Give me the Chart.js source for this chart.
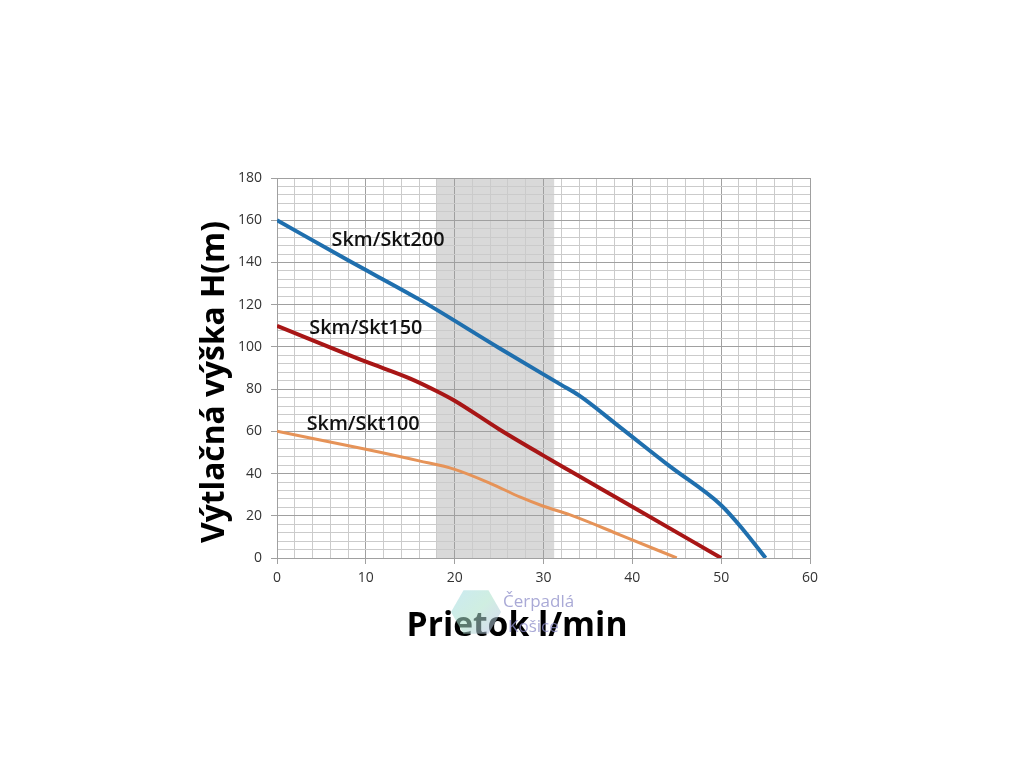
<!DOCTYPE html>
<html>
<head>
<meta charset="utf-8">
<script src="https://cdn.jsdelivr.net/npm/chart.js@4"></script>
<style>
html,body{margin:0;padding:0;background:#fff;}
#wrap{width:1024px;height:768px;position:relative;}
</style>
</head>
<body>
<div id="wrap"><canvas id="c" width="1024" height="768"></canvas></div>
<script>
// ---- data ----
const seriesNames = ['Skm/Skt200', 'Skm/Skt150', 'Skm/Skt100'];
const flow200 = [0, 8, 16, 25, 32, 34, 38.6, 44.2, 50, 52.5, 55];
const head200 = [160, 141, 122.5, 99.5, 82, 77, 62, 43.5, 25, 13.3, 0];
const flow150 = [0, 10, 15, 18, 20, 25, 30, 33, 40, 50];
const head150 = [110, 93, 85, 79, 74.5, 61, 48.5, 41.2, 24.3, 0];
const flow100 = [0, 10, 16, 20, 24, 27.4, 30, 33, 38.6, 45];
const head100 = [60, 51.5, 46, 42, 35.4, 28.8, 24.5, 20.4, 11, 0];
const xTicks = [0, 10, 20, 30, 40, 50, 60];
const yTicks = [0, 20, 40, 60, 80, 100, 120, 140, 160, 180];
const bandRange = [18, 31.2];
const xTitle = 'Prietok l/min';
const yTitle = 'Výtlačná výška H(m)';
const watermark = ['Čerpadlá', 'Košice'];

function pts(xs, ys) { return xs.map((x, i) => ({x: x, y: ys[i]})); }

const labelPos = [[12.5, 150.5], [10.0, 109], [9.7, 63.5]];

function fitFont(ctx, weight, family, text, target) {
  ctx.font = weight + ' 30px ' + family;
  const w = ctx.measureText(text).width;
  const fs = 30 * target / w;
  ctx.font = weight + ' ' + fs.toFixed(2) + 'px ' + family;
}

const overlay = {
  id: 'overlay',
  beforeDraw(chart) {
    const {ctx, chartArea, scales} = chart;
    const x0 = scales.x.getPixelForValue(bandRange[0]);
    const x1 = scales.x.getPixelForValue(bandRange[1]);
    ctx.save();
    ctx.fillStyle = '#d9d9d9';
    ctx.fillRect(x0, chartArea.top, x1 - x0, chartArea.bottom - chartArea.top);
    ctx.restore();
  },
  afterDatasetsDraw(chart) {
    const {ctx, scales} = chart;
    ctx.save();
    ctx.fillStyle = '#111';
    ctx.textAlign = 'center';
    ctx.textBaseline = 'middle';
    seriesNames.forEach((n, i) => {
      fitFont(ctx, '600', '"Open Sans"', n, 113);
      ctx.fillText(n, scales.x.getPixelForValue(labelPos[i][0]), scales.y.getPixelForValue(labelPos[i][1]));
    });
    ctx.fillStyle = '#000';
    fitFont(ctx, 'bold', '"Open Sans"', xTitle, 221);
    ctx.fillText(xTitle, 517, 626);
    fitFont(ctx, 'bold', '"Open Sans"', yTitle, 322);
    ctx.translate(215, 382);
    ctx.rotate(-Math.PI / 2);
    ctx.fillText(yTitle, 0, 0);
    ctx.restore();
    // watermark
    ctx.save();
    ctx.globalAlpha = 0.55;
    const cx = 476, cy = 612, r = 25;
    const g = ctx.createLinearGradient(cx - r, cy - r, cx + r, cy + r);
    g.addColorStop(0, '#9fd8e8');
    g.addColorStop(0.5, '#a8e0c8');
    g.addColorStop(1, '#b8b8e8');
    ctx.fillStyle = g;
    ctx.beginPath();
    for (let k = 0; k < 6; k++) {
      const a = Math.PI / 3 * k;
      const px = cx + r * Math.cos(a), py = cy + r * Math.sin(a);
      if (k === 0) ctx.moveTo(px, py); else ctx.lineTo(px, py);
    }
    ctx.closePath();
    ctx.fill();
    ctx.globalAlpha = 0.75;
    ctx.fillStyle = '#8c8cc8';
    ctx.font = '17px "Open Sans"';
    ctx.textAlign = 'left';
    ctx.textBaseline = 'middle';
    ctx.fillText(watermark[0], 503, 602);
    ctx.fillText(watermark[1], 508, 627);
    ctx.restore();
  }
};

const tickFont = {family: '"Open Sans"', size: 14};

new Chart(document.getElementById('c'), {
  type: 'line',
  data: {
    datasets: [
      {label: seriesNames[0], data: pts(flow200, head200), borderColor: '#1f6fae', borderWidth: 4},
      {label: seriesNames[1], data: pts(flow150, head150), borderColor: '#a81616', borderWidth: 4},
      {label: seriesNames[2], data: pts(flow100, head100), borderColor: '#e69358', borderWidth: 3}
    ]
  },
  options: {
    responsive: false,
    animation: false,
    devicePixelRatio: 1,
    layout: {padding: {left: 0, top: 178, right: 214, bottom: 0}},
    elements: {point: {radius: 0}, line: {cubicInterpolationMode: 'monotone', borderCapStyle: 'butt'}},
    plugins: {legend: {display: false}, tooltip: {enabled: false}},
    scales: {
      x: {
        type: 'linear', min: 0, max: 60,
        afterFit(s) { s.height = 210; },
        ticks: {
          stepSize: 2, autoSkip: false, maxRotation: 0, color: '#333', font: tickFont, padding: 6,
          callback: v => xTicks.includes(v) ? String(v) : ''
        },
        grid: {
          color: c => (c.tick && c.tick.value % 10 === 0) ? '#a0a0a0' : '#cbcbcb',
          tickColor: c => (c.tick && c.tick.value % 10 === 0) ? '#a0a0a0' : 'rgba(0,0,0,0)',
          tickLength: 6, lineWidth: 1
        },
        border: {color: '#a0a0a0'}
      },
      y: {
        type: 'linear', min: 0, max: 180,
        afterFit(s) { s.width = 277; },
        ticks: {
          stepSize: 4, autoSkip: false, color: '#333', font: tickFont, padding: 9,
          callback: v => yTicks.includes(v) ? String(v) : ''
        },
        grid: {
          color: c => (c.tick && c.tick.value % 20 === 0) ? '#a0a0a0' : '#cbcbcb',
          tickColor: c => (c.tick && c.tick.value % 20 === 0) ? '#a0a0a0' : 'rgba(0,0,0,0)',
          tickLength: 6, lineWidth: 1
        },
        border: {color: '#a0a0a0'}
      }
    }
  },
  plugins: [overlay]
});
</script>
</body>
</html>
